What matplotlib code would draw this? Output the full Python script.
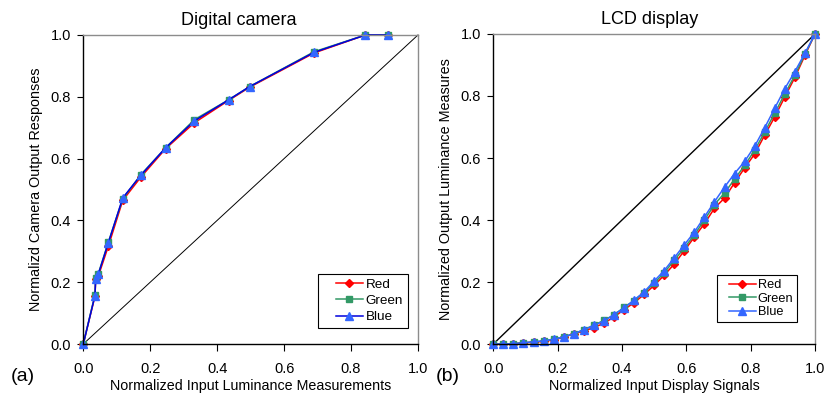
import matplotlib
matplotlib.use('Agg')
import matplotlib.pyplot as plt
from matplotlib.lines import Line2D
from matplotlib.legend_handler import HandlerLine2D

plt.rcParams['font.family'] = ['Liberation Sans', 'DejaVu Sans']

# (a) digital camera: normalized input luminance vs camera response
cam_x = [0.0, 0.035, 0.037, 0.045, 0.075, 0.118, 0.172, 0.246, 0.332, 0.434, 0.497, 0.690, 0.843, 0.910]
cam_red = [0.0, 0.155, 0.210, 0.220, 0.317, 0.465, 0.540, 0.632, 0.716, 0.788, 0.831, 0.942, 1.0, 1.0]
cam_green = [0.0, 0.160, 0.215, 0.228, 0.330, 0.470, 0.548, 0.635, 0.726, 0.790, 0.833, 0.946, 1.0, 1.0]
cam_blue = [0.0, 0.157, 0.212, 0.226, 0.328, 0.473, 0.546, 0.635, 0.722, 0.790, 0.833, 0.944, 1.0, 1.0]

# (b) LCD display: 33 input levels, i/32
lcd_x = [i / 32 for i in range(33)]
lcd_red = [0.0, 0.0, 0.001, 0.004, 0.006, 0.009, 0.013, 0.022, 0.033, 0.042, 0.053, 0.067,
           0.087, 0.111, 0.133, 0.160, 0.189, 0.222, 0.258, 0.301, 0.345, 0.388, 0.438,
           0.471, 0.520, 0.568, 0.613, 0.674, 0.733, 0.797, 0.860, 0.931, 1.0]
lcd_green = [0.0, 0.0, 0.001, 0.004, 0.006, 0.010, 0.016, 0.023, 0.033, 0.046, 0.061, 0.076,
             0.094, 0.118, 0.140, 0.166, 0.196, 0.230, 0.270, 0.310, 0.352, 0.400, 0.450,
             0.487, 0.532, 0.576, 0.625, 0.684, 0.745, 0.807, 0.867, 0.935, 1.0]
lcd_blue = [0.0, 0.0, 0.001, 0.004, 0.007, 0.010, 0.015, 0.023, 0.033, 0.046, 0.060, 0.074,
            0.095, 0.116, 0.142, 0.168, 0.203, 0.237, 0.278, 0.320, 0.361, 0.410, 0.459,
            0.506, 0.550, 0.589, 0.638, 0.698, 0.761, 0.824, 0.879, 0.938, 1.0]

ticks = [0, 0.2, 0.4, 0.6, 0.8, 1.0]
tick_labels = ['0.0', '0.2', '0.4', '0.6', '0.8', '1.0']

RED = '#FF0000'
GREEN = '#339966'
LIGHTBLUE = '#3366FF'


def style_axes(ax, title, title_x, xlabel, ylabel):
    ax.set_xlim(0, 1)
    ax.set_ylim(0, 1)
    ax.set_xticks(ticks)
    ax.set_yticks(ticks)
    ax.set_xticklabels(tick_labels)
    ax.set_yticklabels(tick_labels)
    ax.tick_params(axis='x', direction='out', length=5, width=0.8, pad=8, labelsize=10.5)
    ax.tick_params(axis='y', direction='out', length=4, width=0.8, pad=5, labelsize=10.5)
    for side in ['top', 'right']:
        ax.spines[side].set_color('#8c8c8c')
        ax.spines[side].set_linewidth(1.0)
    for side in ['left', 'bottom']:
        ax.spines[side].set_color('black')
        ax.spines[side].set_linewidth(1.0)
    ax.set_title(title, fontsize=13, x=title_x, pad=7)
    ax.set_xlabel(xlabel, fontsize=10.3, labelpad=2)
    ax.set_ylabel(ylabel, fontsize=10.4, labelpad=5)


fig = plt.figure(figsize=(8.27, 3.99), dpi=100)
ax1 = fig.add_axes([0.1007, 0.1378, 0.4047, 0.7745])
ax2 = fig.add_axes([0.5965, 0.1378, 0.3890, 0.7770])

# panel (a)
ax1.plot([0, 1], [0, 1], color='black', lw=0.7, clip_on=False)
ax1.plot(cam_x, cam_red, color=RED, lw=1.1, marker='D', ms=4, mfc=RED, mec=RED,
         label='Red', clip_on=False)
ax1.plot(cam_x, cam_green, color=GREEN, lw=1.1, marker='s', ms=4.5, mfc=GREEN, mec=GREEN,
         label='Green', clip_on=False)
ax1.plot(cam_x, cam_blue, color='#0000DD', lw=1.1, marker='^', ms=5.5, mfc=LIGHTBLUE,
         mec=LIGHTBLUE, label='Blue', clip_on=False)
style_axes(ax1, 'Digital camera', 0.465,
           'Normalized Input Luminance Measurements', 'Normalizd Camera Output Responses')
leg1 = ax1.legend(loc='lower right', bbox_to_anchor=(0.97, 0.052), fontsize=9.7,
                  frameon=True, fancybox=False, framealpha=1, edgecolor='black',
                  handlelength=3.0, handletextpad=0.2, labelspacing=0.28,
                  borderpad=0.35, borderaxespad=0,
                  handler_map={Line2D: HandlerLine2D(xpad=0.95)})
leg1.get_frame().set_linewidth(0.8)

# panel (b)
ax2.plot([0, 1], [0, 1], color='black', lw=1.0, clip_on=False)
ax2.plot(lcd_x, lcd_red, color=RED, lw=1.1, marker='D', ms=4, mfc=RED, mec=RED,
         label='Red', clip_on=False)
ax2.plot(lcd_x, lcd_green, color=GREEN, lw=1.1, marker='s', ms=4.5, mfc=GREEN, mec=GREEN,
         label='Green', clip_on=False)
ax2.plot(lcd_x, lcd_blue, color=LIGHTBLUE, lw=1.1, marker='^', ms=5.5, mfc=LIGHTBLUE,
         mec=LIGHTBLUE, label='Blue', clip_on=False)
style_axes(ax2, 'LCD display', 0.485,
           'Normalized Input Display Signals', 'Normalized Output Luminance Measures')
leg2 = ax2.legend(loc='lower right', bbox_to_anchor=(0.944, 0.071), fontsize=9.2,
                  frameon=True, fancybox=False, framealpha=1, edgecolor='black',
                  handlelength=2.75, handletextpad=0.15, labelspacing=0.12,
                  borderpad=0.3, borderaxespad=0,
                  handler_map={Line2D: HandlerLine2D(xpad=0.65)})
leg2.get_frame().set_linewidth(0.8)

fig.text(0.027, 0.057, '(a)', fontsize=14, ha='center', va='center')
fig.text(0.542, 0.057, '(b)', fontsize=14, ha='center', va='center')

fig.savefig('out.png', dpi=100)
